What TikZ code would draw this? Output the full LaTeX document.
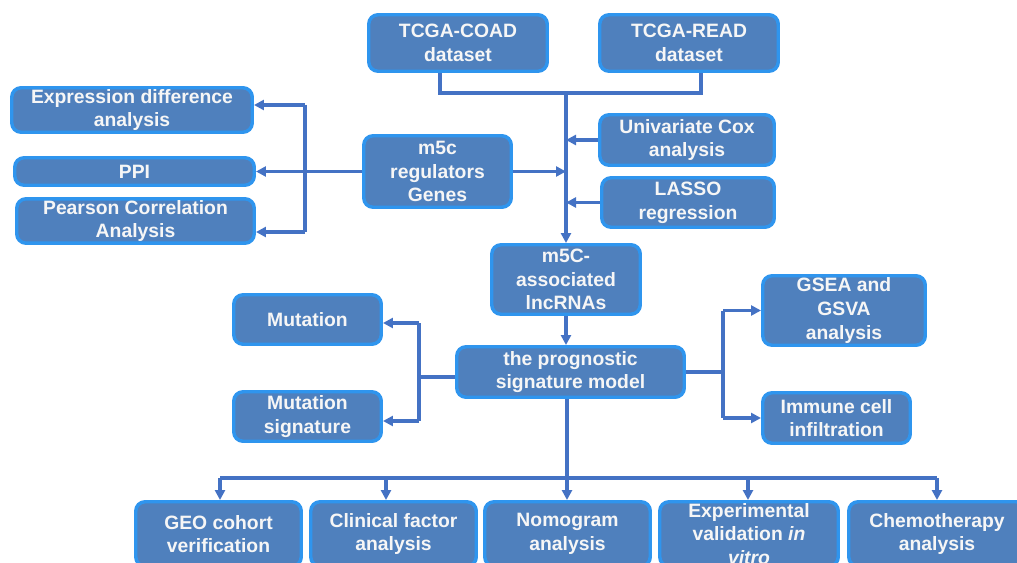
\documentclass[tikz,border=0pt]{standalone}
\usepackage{fontspec}
\setmainfont{Liberation Sans}
\usetikzlibrary{arrows.meta}
\definecolor{boxfill}{HTML}{4F80BD}
\definecolor{boxedge}{HTML}{2F95EE}
\definecolor{linecol}{HTML}{4472C4}
\definecolor{txt}{HTML}{F6F6F6}
\newcommand{\pbox}[6]{\node[box, minimum width={(#4-#2-3.5)*0.75pt}, minimum height={(#5-#3-3.5)*0.75pt}] (#1) at ({(#2+#4)/2},{(#3+#5)/2}) {#6};}
\begin{document}
\begin{tikzpicture}[x=0.75pt,y=-0.75pt,
  box/.style={draw=boxedge, fill=boxfill, line width=2.6pt, rounded corners=7pt,
    text=txt, font=\fontsize{14.5}{17.8}\selectfont\bfseries, align=center, inner sep=1pt},
  conn/.style={draw=linecol, line width=2.3pt},
  arr/.style={conn, -{Triangle[length=7.5pt,width=7.5pt]}}]
\useasboundingbox (0,0) rectangle (1017,563);
\clip (0,0) rectangle (1017,563);
% boxes
\pbox{coad}{367}{13}{549}{73}{TCGA-COAD\\dataset}
\pbox{read}{598}{13}{780}{73}{TCGA-READ\\dataset}
\pbox{cox}{598}{113}{776}{167}{Univariate Cox\\analysis}
\pbox{lasso}{600}{176}{776}{229}{LASSO\\regression}
\pbox{m5c}{362}{134}{513}{209}{m5c\\regulators\\Genes}
\pbox{expr}{10}{86}{254}{134}{Expression difference\\analysis}
\pbox{ppi}{13}{156}{256}{187}{PPI}
\pbox{pear}{15}{198}{256}{244}{Pearson Correlation\\Analysis}
\pbox{lnc}{490}{243}{642}{316}{m5C-\\associated\\lncRNAs}
\pbox{model}{455}{345}{686}{399}{the prognostic\\signature model}
\pbox{mut}{232}{293}{383}{346}{Mutation}
\pbox{mutsig}{232}{390}{383}{443}{Mutation\\signature}
\pbox{gsea}{761}{274}{927}{347}{GSEA and\\GSVA\\analysis}
\pbox{imm}{761}{391}{912}{445}{Immune cell\\infiltration}
\pbox{geo}{134}{500}{303}{568}{GEO cohort\\verification}
\pbox{clin}{309}{500}{478}{568}{Clinical factor\\analysis}
\pbox{nomo}{483}{500}{652}{568}{Nomogram\\analysis}
\pbox{exp}{658}{500}{840}{568}{Experimental\\validation \textit{in}\\\textit{vitro}}
\pbox{chemo}{847}{500}{1027}{568}{Chemotherapy\\analysis}
% junction coordinates
\coordinate (t1) at (440,93);
\coordinate (j1) at (566,93);
\coordinate (t2) at (701,93);
\coordinate (l2) at (305,105);
\coordinate (l3) at (305,232);
\coordinate (ml) at (419,377);
\coordinate (mu) at (419,323);
\coordinate (md) at (419,421);
\coordinate (mr) at (723,372);
\coordinate (b0) at (567,478);
\coordinate (bg) at (220,478);
\coordinate (bc) at (386,478);
\coordinate (bn) at (567,478);
\coordinate (be) at (748,478);
\coordinate (bh) at (937,478);
% top connectors
\draw[conn] (coad.south -| t1) -- (t1) -- (t2) -- (read.south -| t2);
\draw[arr] (j1) -- (lnc.north -| j1);
\draw[arr] (cox.west) -- (cox.west -| j1);
\draw[arr] (lasso.west) -- (lasso.west -| j1);
\draw[arr] (m5c.east) -- (m5c.east -| j1);
% left branch
\draw[arr] (m5c.west) -- (ppi.east);
\draw[conn] (l2) -- (l3);
\draw[arr] (l2) -- (expr.east |- l2);
\draw[arr] (l3) -- (pear.east |- l3);
% lnc to model
\draw[arr] (lnc.south) -- (lnc.south |- model.north);
% model left
\draw[conn] (model.west |- ml) -- (ml);
\draw[conn] (mu) -- (md);
\draw[arr] (mu) -- (mut.east |- mu);
\draw[arr] (md) -- (mutsig.east |- md);
% model right
\draw[conn] (model.east |- mr) -- (mr);
\draw[conn] (mr |- gsea.west) -- (mr |- imm.west);
\draw[arr] (mr |- gsea.west) -- (gsea.west);
\draw[arr] (mr |- imm.west) -- (imm.west);
% bottom
\draw[conn] (model.south -| b0) -- (b0);
\draw[conn] (bg) -- (bh);
\draw[arr] (bg) -- (geo.north -| bg);
\draw[arr] (bc) -- (clin.north -| bc);
\draw[arr] (bn) -- (nomo.north -| bn);
\draw[arr] (be) -- (exp.north -| be);
\draw[arr] (bh) -- (chemo.north -| bh);
\end{tikzpicture}
\end{document}
